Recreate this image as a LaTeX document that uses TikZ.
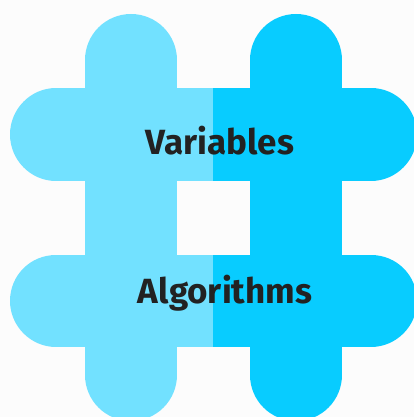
\documentclass[tikz,border=0pt]{standalone}
\usepackage{fontspec}
\newfontfamily\labelfont{Fira Sans}
\definecolor{lightblue}{RGB}{114,225,255}
\definecolor{darkblue}{RGB}{8,204,255}
\definecolor{bgcol}{RGB}{252,252,252}
\definecolor{txtcol}{RGB}{34,34,34}
\begin{document}
\begin{tikzpicture}[x=1pt,y=-1pt,
  bar/.style={line width=92pt,line cap=round},
  lbl/.style={font=\labelfont\bfseries\fontsize{35}{40}\selectfont,text=txtcol,inner sep=0pt}]
\useasboundingbox (0,0) rectangle (414,417);
\fill[bgcol] (0,0) rectangle (414,417);
\begin{scope}
  \clip (0,0) rectangle (213,417);
  \draw[bar,lightblue] (131,60) -- (131,375);
  \draw[bar,lightblue] (296,60) -- (296,375);
  \draw[bar,lightblue] (56,134.5) -- (371,134.5);
  \draw[bar,lightblue] (56,300.5) -- (371,300.5);
\end{scope}
\begin{scope}
  \clip (213,0) rectangle (414,417);
  \draw[bar,darkblue] (131,60) -- (131,375);
  \draw[bar,darkblue] (296,60) -- (296,375);
  \draw[bar,darkblue] (56,134.5) -- (371,134.5);
  \draw[bar,darkblue] (56,300.5) -- (371,300.5);
\end{scope}
\node[lbl,anchor=base] (vars) at (220,154) {Variables};
\node[lbl,anchor=base] (algs) at (225,303) {Algorithms};
\end{tikzpicture}
\end{document}
